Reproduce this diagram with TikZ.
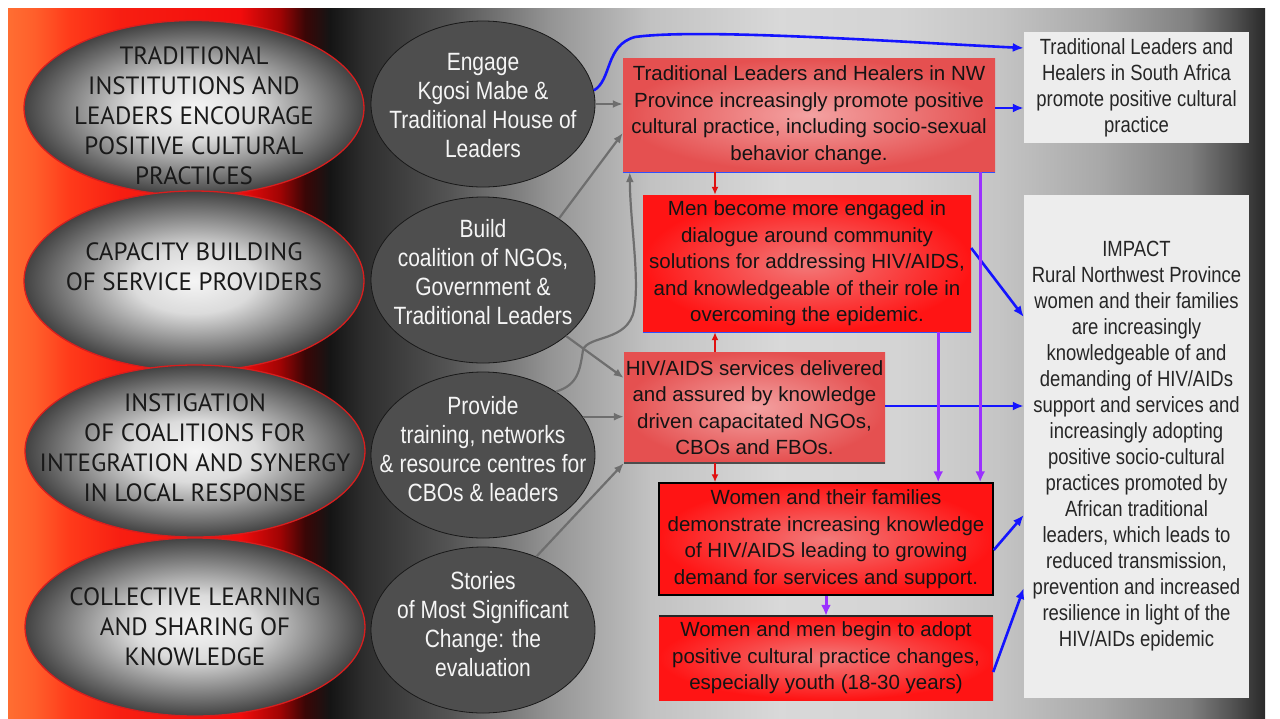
\documentclass[tikz,border=0pt]{standalone}
\usepackage{fontspec}
\setmainfont{Liberation Sans}
\newfontfamily\capsfont{PT Sans}
\newfontfamily\narrowfont[FakeStretch=0.84]{Liberation Sans}
\usepackage{tikz}
\usetikzlibrary{shapes.geometric,arrows.meta}
\definecolor{panelA}{HTML}{FF6E32}
\definecolor{panelB}{HTML}{FF3A1A}
\definecolor{panelC}{HTML}{F20C0C}
\definecolor{panelD}{HTML}{A00404}
\definecolor{panelE}{HTML}{3A0606}
\definecolor{ovalrim}{HTML}{D81E1E}
\definecolor{discgrey}{HTML}{4E4E4E}
\definecolor{palein}{HTML}{F3A2A2}
\definecolor{paleout}{HTML}{E55050}
\definecolor{vividin}{HTML}{F27A7A}
\definecolor{vividout}{HTML}{FF1414}
\definecolor{outcomegrey}{HTML}{EDEDED}
\definecolor{arrowgrey}{HTML}{6E6E6E}
\definecolor{arrowblue}{HTML}{1414FF}
\definecolor{arrowviolet}{HTML}{9B30FF}
\definecolor{arrowred}{HTML}{E01010}
\definecolor{rimblue}{HTML}{3050FF}
\pgfdeclarehorizontalshading{panelshade}{100bp}{%
  color(0bp)=(panelA); color(25bp)=(panelA); color(26.07bp)=(panelA!70!panelB);
  color(27.47bp)=(panelB); color(29.46bp)=(panelC!60!panelB); color(34.23bp)=(panelC);
  color(35.82bp)=(panelD); color(36.81bp)=(panelE); color(37.81bp)=(black!92);
  color(39.2bp)=(black!82); color(42.58bp)=(black!67); color(46.56bp)=(black!42);
  color(50.54bp)=(black!24); color(55.71bp)=(black!15); color(60.48bp)=(black!17);
  color(64.46bp)=(black!23); color(68.44bp)=(black!34); color(72.02bp)=(black!50);
  color(73.81bp)=(black!69); color(75bp)=(black!84); color(100bp)=(black!84)}
\pgfdeclareradialshading{ovalshade}{\pgfpoint{0bp}{0bp}}{%
  color(0bp)=(black!4); color(9bp)=(black!14); color(25bp)=(black!74); color(50bp)=(black!74)}
\tikzset{
  oval/.style={ellipse, draw=ovalrim, line width=1.3pt, shade, shading=ovalshade, minimum width=340pt, inner sep=0pt},
  ovaltext/.style={font=\capsfont\fontsize{25}{30}\selectfont, text=black!90, align=center, inner sep=0pt},
  disc/.style={ellipse, draw=black!90, line width=0.8pt, fill=discgrey, minimum width=224pt, minimum height=166pt, inner sep=0pt},
  disctext/.style={inner sep=0pt, text=black!4, align=center, font=\narrowfont\fontsize{25}{29}\selectfont},
  result/.style={rectangle, inner sep=0pt, align=center, text=black!92, font=\fontsize{20.5}{26.5}\selectfont},
  pale/.style={result, inner color=palein, outer color=paleout},
  vivid/.style={result, inner color=vividin, outer color=vividout},
  outcome/.style={rectangle, fill=outcomegrey, inner sep=0pt, align=center, text=black!85,
    font=\narrowfont\fontsize{22}{26}\selectfont},
  greyarr/.style={draw=arrowgrey, line width=2.2pt, -{Latex[length=10pt,width=8pt]}},
  bluearr/.style={draw=arrowblue, line width=2.6pt, -{Latex[length=11pt,width=9pt]}},
  violetarr/.style={draw=arrowviolet, line width=3pt, -{Latex[length=11pt,width=10pt]}},
  redarr/.style={draw=arrowred, line width=1.8pt, -{Latex[length=8pt,width=7pt]}}
}
\begin{document}
\begin{tikzpicture}[x=1pt,y=-1pt]
  \useasboundingbox (0,0) rectangle (1280,718);
  \fill[white] (0,0) rectangle (1280,718);
  \shade[shading=panelshade] (8,8) rectangle (1265,718);

  \node[oval,minimum height=175pt] (o1) at (194,108) {};
  \node[oval,minimum height=180pt] (o2) at (194,281) {};
  \node[oval,minimum height=172pt] (o3) at (195,451) {};
  \node[oval,minimum height=178pt] (o4) at (195,627) {};
  \node[ovaltext] (o1t) at (194,116) {TRADITIONAL\\INSTITUTIONS AND\\LEADERS ENCOURAGE\\POSITIVE CULTURAL\\PRACTICES};
  \node[ovaltext] (o2t) at (194,267) {CAPACITY BUILDING\\OF SERVICE PROVIDERS};
  \node[ovaltext] (o3t) at (195,448) {INSTIGATION\\OF COALITIONS FOR\\INTEGRATION AND SYNERGY\\IN LOCAL RESPONSE};
  \node[ovaltext] (o4t) at (195,627) {COLLECTIVE LEARNING\\AND SHARING OF\\KNOWLEDGE};

  \node[disc] (d1) at (483,104) {};
  \node[disc] (d2) at (483,280) {};
  \node[disc] (d3) at (483,455) {};
  \node[disc] (d4) at (483,630) {};
  \node[disctext] (d1t) at (483,106) {Engage\\Kgosi Mabe \&\\Traditional House of\\Leaders};
  \node[disctext] (d2t) at (483,272) {Build\\coalition of NGOs,\\Government \&\\Traditional Leaders};
  \node[disctext] (d3t) at (483,449) {Provide\\training, networks\\\& resource centres for\\CBOs \& leaders};
  \node[disctext] (d4t) at (483,624) {Stories\\of Most Significant\\Change: the\\evaluation};

  \node[pale,minimum width=372pt,minimum height=114pt] (b1) at (809,115)
    {Traditional Leaders and Healers in NW\\Province increasingly promote positive\\cultural practice, including socio-sexual\\behavior change.};
  \node[vivid,minimum width=328pt,minimum height=137pt] (b2) at (807,263.5)
    {Men become more engaged in\\dialogue around community\\solutions for addressing HIV/AIDS,\\and knowledgeable of their role in\\overcoming the epidemic.};
  \node[pale,minimum width=261pt,minimum height=111pt] (b3) at (754.5,407.5)
    {HIV/AIDS services delivered\\and assured by knowledge\\driven capacitated NGOs,\\CBOs and FBOs.};
  \node[vivid,draw=black,line width=1.5pt,minimum width=334pt,minimum height=112pt] (b4) at (826,539)
    {Women and their families\\demonstrate increasing knowledge\\of HIV/AIDS leading to growing\\demand for services and support.};
  \node[vivid,minimum width=334pt,minimum height=84pt] (b5) at (826,658)
    {Women and men begin to adopt\\positive cultural practice changes,\\especially youth (18-30 years)};
  \draw[rimblue,line width=1.4pt] (b1.south west) -- (b1.south east);
  \draw[rimblue,line width=1.4pt] (b2.south west) -- (b2.south east);
  \draw[black!70,line width=1.6pt] (b3.south west) -- (b3.south east);
  \draw[black!85,line width=1.6pt] (b5.north west) -- (b5.north east);

  \node[outcome,minimum width=225pt,minimum height=111pt] (ra) at (1136.5,87.5)
    {Traditional Leaders and\\Healers in South Africa\\promote positive cultural\\practice};
  \node[outcome,minimum width=225pt,minimum height=503pt] (rb) at (1136.5,446.5)
    {IMPACT\\Rural Northwest Province\\women and their families\\are increasingly\\knowledgeable of and\\demanding of HIV/AIDs\\support and services and\\increasingly adopting\\positive socio-cultural\\practices promoted by\\African traditional\\leaders, which leads to\\reduced transmission,\\prevention and increased\\resilience in light of the\\HIV/AIDs epidemic};

  \draw[greyarr] (d1.east) -- (d1.east -| b1.west);
  \draw[greyarr] (d2.39) -- ([yshift=-18pt]b1.west);
  \draw[greyarr] (d3.41) .. controls (578,385) and (580,370) .. (583,350)
    .. controls (588,335) and (628,342) .. (634,310)
    .. controls (640,280) and (630,220) .. ([xshift=7pt]b1.south west);
  \draw[greyarr] (d2.-34) -- ([yshift=29.5pt]b3.west);
  \draw[greyarr] (d3.21) -- (d3.21 -| b3.west);
  \draw[greyarr] (d4.54) -- (b3.south west);

  \draw[bluearr] (d1.7) .. controls (612,80) and (605,45) .. (635,37)
    .. controls (700,28) and (900,42) .. ([yshift=39.5pt]ra.west);
  \draw[bluearr] ([yshift=7pt]b1.east) -- ([yshift=7pt]b1.east -| ra.west);
  \draw[bluearr] ([yshift=15.5pt]b2.east) -- ([yshift=129.5pt]rb.west);
  \draw[bluearr] ([yshift=1.5pt]b3.east) -- ([yshift=1.5pt]b3.east -| rb.west);
  \draw[bluearr] ([yshift=-11pt]b4.east) -- ([yshift=-68.5pt]rb.west);
  \draw[bluearr] ([yshift=-14pt]b5.east) -- ([yshift=-141.5pt]rb.west);

  \coordinate (v1) at ([xshift=-15pt]b1.south east);
  \coordinate (v2) at ([xshift=-33pt]b2.south east);
  \draw[violetarr] (v1) -- (v1 |- b4.north);
  \draw[violetarr] (v2) -- (v2 |- b4.north);
  \draw[violetarr] (b4.south) -- (b5.north);

  \coordinate (r1) at ([xshift=-94pt]b1.south);
  \coordinate (r2) at ([xshift=-39.5pt]b3.north);
  \coordinate (r3) at ([xshift=-39.5pt]b3.south);
  \draw[redarr] (r1) -- (r1 |- b2.north);
  \draw[redarr] (r2) -- (r2 |- b2.south);
  \draw[redarr] (r3) -- (r3 |- b4.north);
\end{tikzpicture}
\end{document}
